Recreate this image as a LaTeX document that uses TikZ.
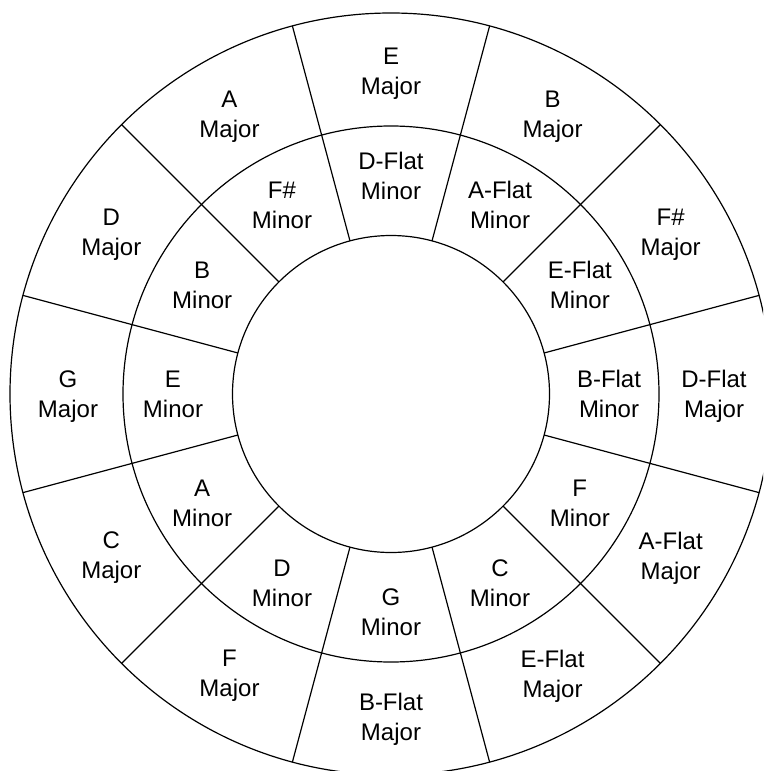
\documentclass[tikz,border=0pt]{standalone}
\usepackage{fontspec}
\setmainfont{Liberation Sans}
\begin{document}
\begin{tikzpicture}[x=1pt,y=1pt,
  ring/.style={circle,draw,line width=1.2pt,inner sep=0pt,outer sep=0pt},
  spoke/.style={line width=1.2pt},
  lbl/.style={align=center,font=\fontsize{24}{30}\selectfont,inner sep=0pt,text depth=0pt}]
\clip (0,0) rectangle (763,-771);
\fill[white] (0,0) rectangle (763,-771);
\coordinate (c) at (391,-394);
\node[ring,minimum size=762pt] (outer) at (c) {};
\node[ring,minimum size=536pt] (middle) at (c) {};
\node[ring,minimum size=317pt] (inner) at (c) {};
\foreach \a in {15,45,...,345} \draw[spoke] (inner.\a) -- (outer.\a);
\foreach \ang/\nm/\txt in {90/majE/E, 60/majB/B, 30/majFs/F\#, 0/majDb/D-Flat,
  -30/majAb/A-Flat, -60/majEb/E-Flat, -90/majBb/B-Flat, -120/majF/F,
  -150/majC/C, 180/majG/G, 150/majD/D, 120/majA/A}
  \node[lbl] (\nm) at ([shift={(\ang:323)}]c) {\txt\\Major};
\foreach \ang/\nm/\txt in {90/minDb/D-Flat, 60/minAb/A-Flat, 30/minEb/E-Flat, 0/minBb/B-Flat,
  -30/minF/F, -60/minC/C, -90/minG/G, -120/minD/D,
  -150/minA/A, 180/minE/E, 150/minB/B, 120/minFs/F\#}
  \node[lbl] (\nm) at ([shift={(\ang:218)}]c) {\txt\\Minor};
\end{tikzpicture}
\end{document}
